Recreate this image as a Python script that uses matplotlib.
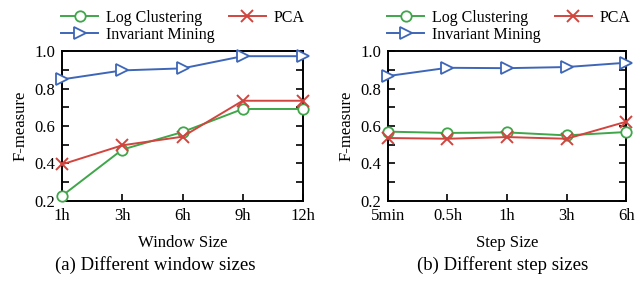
import numpy as np
import matplotlib.pyplot as plt
from matplotlib.ticker import MultipleLocator

plt.rcParams['font.family'] = ['Liberation Serif', 'DejaVu Serif']
plt.rcParams['font.size'] = 12

# (a) window sizes
win_labels = ['1h', '3h', '6h', '9h', '12h']
win_logc = [0.227, 0.474, 0.568, 0.691, 0.691]
win_pca = [0.395, 0.497, 0.543, 0.735, 0.735]
win_inv = [0.849, 0.897, 0.908, 0.973, 0.973]

# (b) step sizes
step_labels = ['5min', '0.5h', '1h', '3h', '6h']
step_logc = [0.570, 0.563, 0.566, 0.550, 0.568]
step_pca = [0.536, 0.532, 0.541, 0.532, 0.623]
step_inv = [0.867, 0.911, 0.909, 0.915, 0.938]

green = '#3fa64a'
red = '#d2453f'
blue = '#3e66b8'

fig = plt.figure(figsize=(6.37, 2.99), dpi=100)
ax1 = fig.add_axes([0.0973, 0.328, 0.3784, 0.501])
ax2 = fig.add_axes([0.609, 0.328, 0.374, 0.501])

panels = [
    (ax1, win_labels, win_logc, win_pca, win_inv, 'Window Size', '(a) Different window sizes', 0.386),
    (ax2, step_labels, step_logc, step_pca, step_inv, 'Step Size', '(b) Different step sizes', 0.48),
]

for ax, labels, logc, pca, inv, xlab, cap, capx in panels:
    x = np.arange(len(labels))
    l1, = ax.plot(x, logc, color=green, marker='o', mfc='white', ms=7.5, mew=1.3, lw=1.4,
                  label='Log Clustering', clip_on=False, zorder=3)
    l2, = ax.plot(x, pca, color=red, marker='x', ms=8, mew=1.4, lw=1.4,
                  label='PCA', clip_on=False, zorder=3)
    l3, = ax.plot(x, inv, color=blue, marker='>', mfc='white', ms=8, mew=1.3, lw=1.4,
                  label='Invariant Mining', clip_on=False, zorder=3)
    ax.set_xlim(0, len(labels) - 1)
    ax.set_ylim(0.2, 1.0)
    ax.set_xticks(x)
    ax.set_xticklabels(labels)
    ax.yaxis.set_major_locator(MultipleLocator(0.2))
    ax.yaxis.set_minor_locator(MultipleLocator(0.1))
    ax.tick_params(axis='both', which='both', direction='in', length=5, width=1.2,
                   right=True, top=False, pad=5)
    for s in ax.spines.values():
        s.set_linewidth(1.4)
    ax.set_ylabel('F-measure', labelpad=4)
    ax.set_xlabel(xlab, labelpad=8)
    ax.text(capx, -0.43, cap, transform=ax.transAxes, ha='center', va='center', fontsize=13.5)
    # row-major order: Log Clustering, PCA / Invariant Mining
    ax.legend([l1, l3, l2], ['Log Clustering', 'Invariant Mining', 'PCA'],
              loc='lower left', bbox_to_anchor=(-0.03, 1.013), ncol=2, frameon=False,
              handlelength=2.3, handletextpad=0.5, columnspacing=0.9, labelspacing=0.05,
              borderaxespad=0.0, fontsize=11.5)

fig.savefig('out.png', dpi=100)
